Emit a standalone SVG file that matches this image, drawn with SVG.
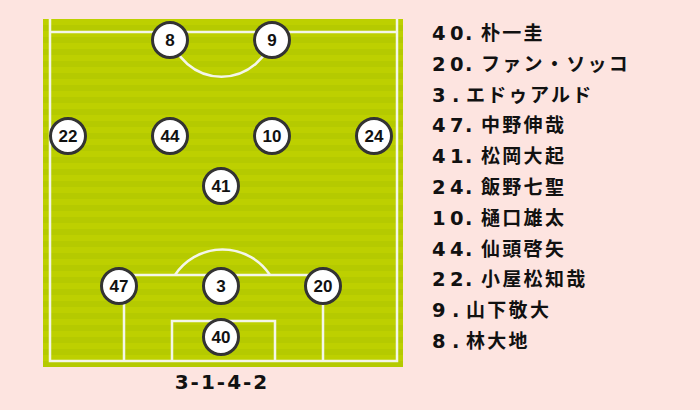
<svg xmlns="http://www.w3.org/2000/svg" width="700" height="410" viewBox="0 0 700 410">
<defs>
<pattern id="stripes" x="0" y="19" width="10" height="12" patternUnits="userSpaceOnUse">
<rect width="10" height="12" fill="#bdd000"/>
<rect y="6" width="10" height="6" fill="#b5ca00"/>
</pattern>
</defs>
<style>
.ln{fill:none;stroke:#f4f6e8;stroke-width:2.5}
.pc{fill:#ffffff;stroke:#333333;stroke-width:3}
.pn{font-family:"Liberation Sans","Noto Sans",sans-serif;font-weight:bold;font-size:17px;fill:#111;text-anchor:middle}
.nm{font-family:"Noto Sans CJK JP","Liberation Sans",sans-serif;font-weight:bold;font-size:19px;fill:#111;letter-spacing:2.3px}
.no{font-family:"DejaVu Sans","Liberation Sans",sans-serif;font-weight:bold;font-size:19.5px;letter-spacing:0}
.fm{font-family:"DejaVu Sans","Liberation Sans",sans-serif;font-weight:bold;font-size:20px;fill:#111;text-anchor:middle;letter-spacing:2px}
</style>
<rect width="700" height="410" fill="#fde4e0"/>
<g id="pitch">
<rect x="43" y="19" width="360" height="348" fill="url(#stripes)"/>
<path class="ln" d="M50 19 V361 H397 V19"/>
<line class="ln" x1="50" y1="32" x2="397" y2="32"/>
<path class="ln" d="M170 32 A52 52 0 0 0 273 32"/>
<path class="ln" d="M124 361 V275 H323 V361"/>
<path class="ln" d="M172 361 V321 H275 V361"/>
<path class="ln" d="M175 275 A57 57 0 0 1 270 275"/>
</g>
<g id="p8"><circle class="pc" cx="170" cy="40" r="17.5"/><text class="pn" x="170" y="46">8</text></g>
<g id="p9"><circle class="pc" cx="272" cy="40" r="17.5"/><text class="pn" x="272" y="46">9</text></g>
<g id="p22"><circle class="pc" cx="68" cy="136" r="17.5"/><text class="pn" x="68" y="142">22</text></g>
<g id="p44"><circle class="pc" cx="170" cy="136" r="17.5"/><text class="pn" x="170" y="142">44</text></g>
<g id="p10"><circle class="pc" cx="272" cy="136" r="17.5"/><text class="pn" x="272" y="142">10</text></g>
<g id="p24"><circle class="pc" cx="374" cy="136" r="17.5"/><text class="pn" x="374" y="142">24</text></g>
<g id="p41"><circle class="pc" cx="221" cy="186" r="17.5"/><text class="pn" x="221" y="192">41</text></g>
<g id="p47"><circle class="pc" cx="119" cy="286" r="17.5"/><text class="pn" x="119" y="292">47</text></g>
<g id="p3"><circle class="pc" cx="221" cy="286" r="17.5"/><text class="pn" x="221" y="292">3</text></g>
<g id="p20"><circle class="pc" cx="323" cy="286" r="17.5"/><text class="pn" x="323" y="292">20</text></g>
<g id="p40"><circle class="pc" cx="221" cy="337" r="17.5"/><text class="pn" x="221" y="343">40</text></g>
<g id="formation"><text class="fm" x="222" y="389">3-1-4-2</text></g>
<g id="roster">
<text class="nm" y="40"><tspan class="no" x="432 450 465 472">40. </tspan><tspan x="481">朴一圭</tspan></text>
<text class="nm" y="70.8"><tspan class="no" x="432 450 465 472">20. </tspan><tspan x="481">ファン・ソッコ</tspan></text>
<text class="nm" y="101.6"><tspan class="no" x="432 452 459">3. </tspan><tspan x="466">エドゥアルド</tspan></text>
<text class="nm" y="132.4"><tspan class="no" x="432 450 465 472">47. </tspan><tspan x="481">中野伸哉</tspan></text>
<text class="nm" y="163.2"><tspan class="no" x="432 450 465 472">41. </tspan><tspan x="481">松岡大起</tspan></text>
<text class="nm" y="194"><tspan class="no" x="432 450 465 472">24. </tspan><tspan x="481">飯野七聖</tspan></text>
<text class="nm" y="224.8"><tspan class="no" x="432 450 465 472">10. </tspan><tspan x="481">樋口雄太</tspan></text>
<text class="nm" y="255.6"><tspan class="no" x="432 450 465 472">44. </tspan><tspan x="481">仙頭啓矢</tspan></text>
<text class="nm" y="286.4"><tspan class="no" x="432 450 465 472">22. </tspan><tspan x="481">小屋松知哉</tspan></text>
<text class="nm" y="317.2"><tspan class="no" x="432 452 459">9. </tspan><tspan x="466">山下敬大</tspan></text>
<text class="nm" y="348"><tspan class="no" x="432 452 459">8. </tspan><tspan x="466">林大地</tspan></text>
</g>
</svg>
